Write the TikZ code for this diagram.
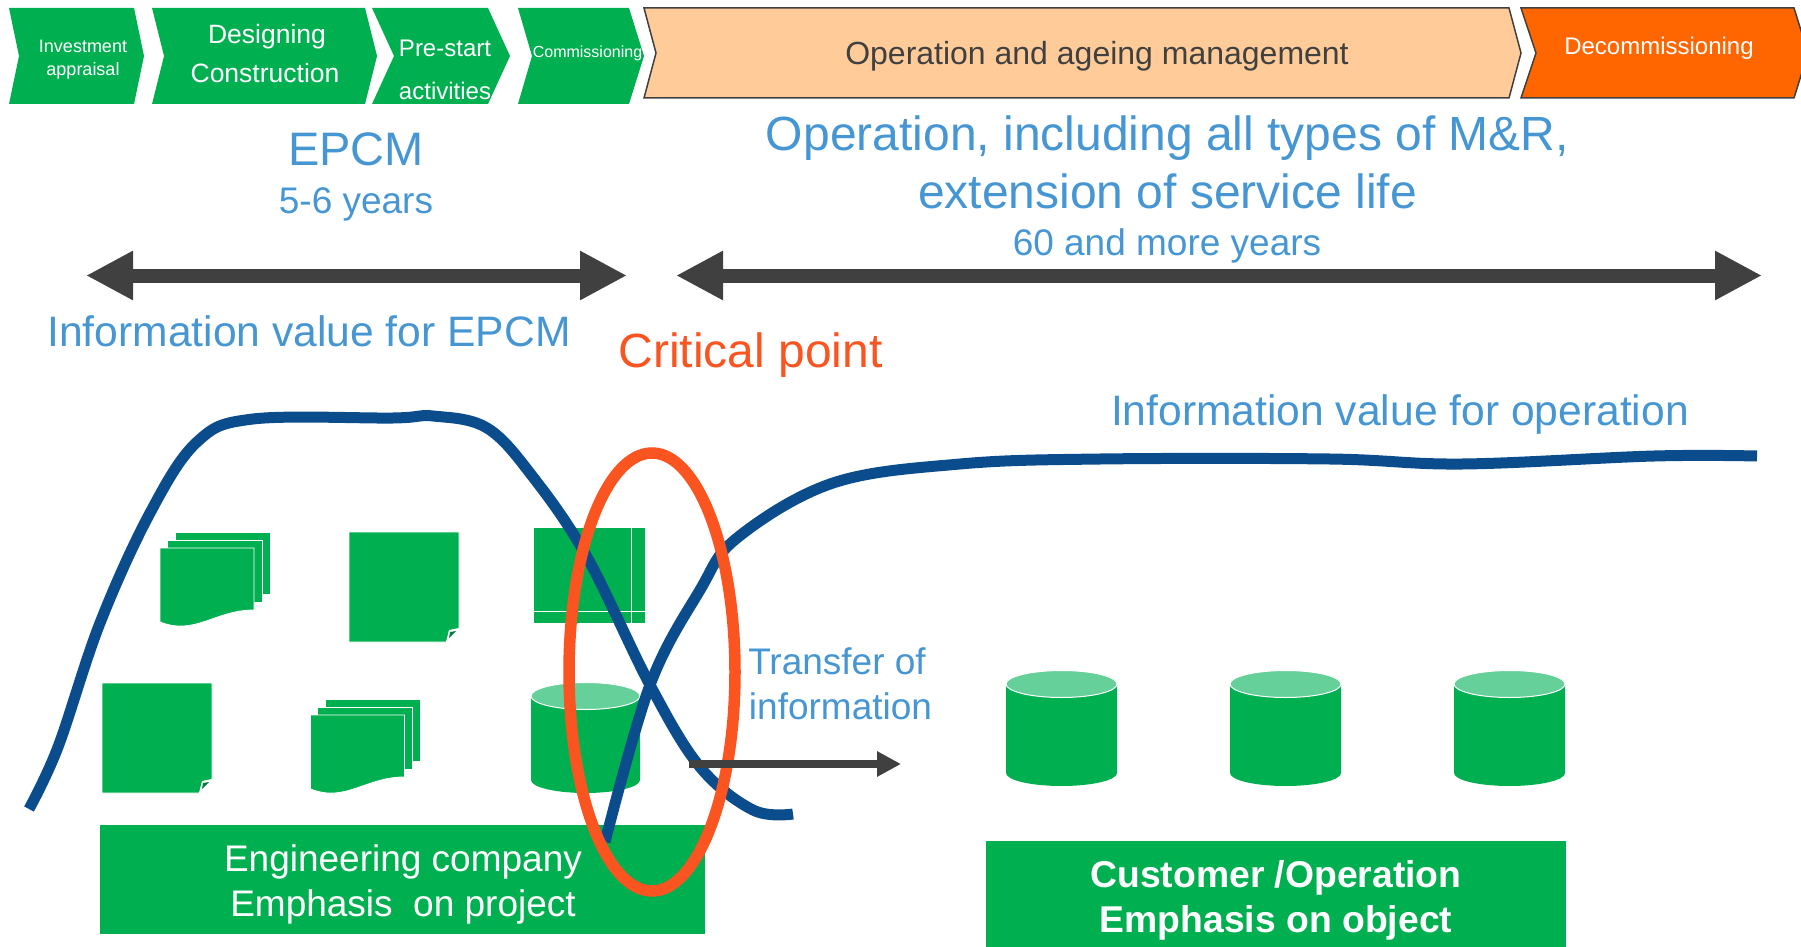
\documentclass[tikz,border=0pt]{standalone}
\usepackage{fontspec}
\setmainfont{Liberation Sans}
\usetikzlibrary{arrows.meta}
\definecolor{grn}{HTML}{00B050}
\definecolor{lgrn}{HTML}{66D09A}
\definecolor{peach}{HTML}{FFCC99}
\definecolor{orng}{HTML}{FF6600}
\definecolor{blu}{HTML}{4596D3}
\definecolor{crit}{HTML}{FA5520}
\definecolor{curve}{HTML}{0B4D8C}
\definecolor{dgr}{HTML}{404040}
\newcommand{\fsz}[1]{\fontsize{#1}{#1}\selectfont}
\newcommand{\lab}[5]{\node[txt,text=#4] (#1) at (#2) {\fsz{#3}#5};}
\newcommand{\stackdoc}[2]{\begin{scope}[shift={(#1,#2)}]
 \path[sheet] (175,532) rectangle (270,594);
 \path[sheet] (167,540) rectangle (262,602);
 \path[sheet] (160,548) -- (254,548) -- (254,610) .. controls (215,610) and (195,636) .. (160,622) -- cycle;
\end{scope}}
\newcommand{\notedoc}[2]{\begin{scope}[shift={(#1,#2)}]
 \path[sheet] (349,532) -- (459,532) -- (459,628) -- (446,642) -- (349,642) -- cycle;
 \path[fill=white] (459,628) -- (449,630) -- (446,642) -- cycle;
 \path[fill=grn!70!black] (456,631) -- (450,632) -- (449,638) -- cycle;
\end{scope}}
% dx, dy, y of the bottom rim centre, half width
\newcommand{\cyl}[4]{\begin{scope}[shift={(#1,#2)}]
 \path[fill=grn] (531,696) -- (531,#3) arc[start angle=180,end angle=360,x radius=#4pt,y radius=13pt] -- ++(0,-#3+696) -- cycle;
 \path[fill=lgrn,draw=white,line width=1pt] (531+#4,696) ellipse[x radius=#4pt,y radius=13.5pt];
\end{scope}}
\tikzset{
 x=1pt,y=-1pt,
 txt/.style={anchor=base,inner sep=0pt,align=center},
 gchev/.style={fill=grn},
 ochev/.style={draw=dgr,line width=1.5pt,line join=miter},
 sheet/.style={fill=grn,draw=white,line width=0.9pt},
 gbox/.style={fill=grn},
 bluecurve/.style={draw=curve,line width=11pt,smooth,tension=0.6},
 bigarrow/.style={draw=dgr,line width=14pt,{Triangle[length=47pt,width=46pt]}-{Triangle[length=47pt,width=46pt]}},
 smallarrow/.style={draw=dgr,line width=7.5pt,-{Triangle[length=24pt,width=24pt]}},
}
\begin{document}
\begin{tikzpicture}
\useasboundingbox (0,0) rectangle (1801,947);
% chevrons
\path[gchev] (9,8) -- (134,8) -- (144,56) -- (134,104) -- (9,104) -- (19,56) -- cycle;
\path[gchev] (152,8) -- (365,8) -- (377,56) -- (365,104) -- (152,104) -- (164,56) -- cycle;
\path[gchev] (372,8) -- (488,8) -- (510,56) -- (488,104) -- (372,104) -- (394,56) -- cycle;
\path[gchev] (518,8) -- (629,8) -- (644,56) -- (629,104) -- (518,104) -- (532,56) -- cycle;
\path[ochev,fill=peach] (644,8) -- (1509,8) -- (1521,53) -- (1509,98) -- (644,98) -- (656,53) -- cycle;
\path[ochev,fill=orng] (1521,8) -- (1794,8) -- (1808,53) -- (1794,98) -- (1521,98) -- (1536,53) -- cycle;
% boxes
\path[gbox] (100,825) rectangle (705,934);
\path[gbox] (986,841) rectangle (1566,947);
% icons
\stackdoc{0}{0}
\stackdoc{150.5}{167}
\notedoc{0}{0}
\notedoc{-247}{151}
\path[fill=grn] (534,528) rectangle (645,623);
\path[draw=white,line width=1.8pt] (631.5,528) -- (631.5,623) (534,611.5) -- (645,611.5);
\cyl{0}{0}{780}{54.5}
\cyl{475}{-12}{785}{55.5}
\cyl{699}{-12}{785}{55.5}
\cyl{923}{-12}{785}{55.5}
% curves
\draw[bluecurve] plot coordinates {(29,809) (58,747) (100,623) (150,513) (197,442) (253,419) (393,418) (433,416) (487,428) (533,477) (587,557) (650,685) (700,767) (753,810) (793,814)};
\draw[bluecurve] plot coordinates {(605,842) (650,685) (700,590) (737,538) (833,483) (960,464) (1100,459) (1330,459) (1462,464) (1654,456) (1757,456)};
% critical ellipse
\draw[crit,line width=11.5pt] (652,672) ellipse[x radius=83pt,y radius=219pt];
% arrows
\coordinate (a1l) at (86,275.5);
\coordinate (a1r) at (627,275.5);
\coordinate (a2l) at (676,275.5);
\coordinate (a2r) at (1762,275.5);
\coordinate (a3l) at (689,764);
\coordinate (a3r) at (901,764);
\draw[bigarrow] (a1l) -- (a1r);
\draw[bigarrow] (a2l) -- (a2r);
\draw[smallarrow] (a3l) -- (a3r);
% texts
\lab{t1}{83,53}{18}{white}{Investment}
\lab{t2}{83,76}{18}{white}{appraisal}
\lab{t3}{267,43.5}{26.5}{white}{Designing}
\lab{t4}{265,83}{26.5}{white}{Construction}
\lab{t5}{445,57}{24}{white}{Pre-start}
\lab{t6}{445,99.5}{24}{white}{activities}
\lab{t7}{587.5,58}{16}{white}{Commissioning}
\lab{t8}{1097,65}{32}{dgr}{Operation and ageing management}
\lab{t9}{1659,55}{24}{white}{Decommissioning}
\lab{t10}{356,165}{47}{blu}{EPCM}
\lab{t11}{356,213}{37}{blu}{5-6 years}
\lab{t12}{1167.5,150}{48}{blu}{Operation, including all types of M\&R,}
\lab{t13}{1167.5,208}{48}{blu}{extension of service life}
\lab{t14}{1167,255}{37}{blu}{60 and more years}
\lab{t15}{309,346}{42.6}{blu}{Information value for EPCM}
\lab{t16}{750.5,367}{48}{crit}{Critical point}
\lab{t17}{1400,425}{42.6}{blu}{Information value for operation}
\lab{t18}{837,674}{37}{blu}{Transfer of}
\lab{t19}{840.5,719}{37}{blu}{information}
\lab{t20}{403,871}{37}{white}{Engineering company}
\lab{t21}{403,916}{37}{white}{Emphasis\ \ on project}
\lab{t22}{1276,887}{37.3}{white}{\bfseries Customer /Operation}
\lab{t23}{1276,932}{37.3}{white}{\bfseries Emphasis on object}
\end{tikzpicture}
\end{document}
